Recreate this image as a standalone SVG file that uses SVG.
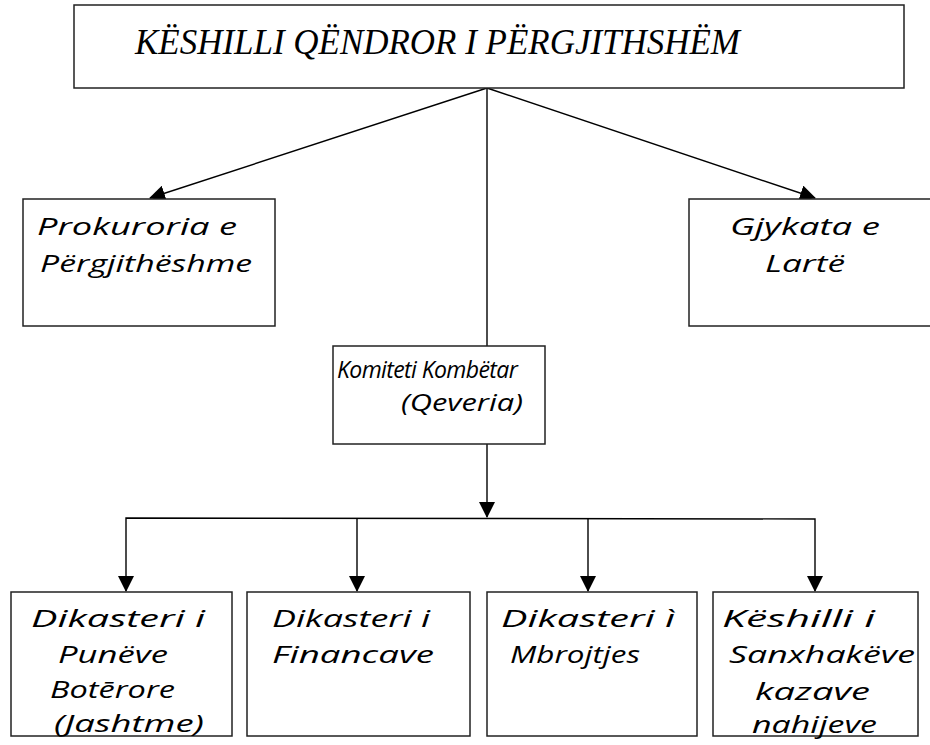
<svg xmlns="http://www.w3.org/2000/svg" width="930" height="745" viewBox="0 0 930 745">
<defs>
<style>
.box{fill:#fff;stroke:#222;stroke-width:1.5}
.ln{stroke:#000;stroke-width:1.4;fill:none}
.t{font-family:"Open Sans","DejaVu Sans",sans-serif;font-style:italic;font-size:24px;fill:#000}
.title{font-family:"Liberation Serif",serif;font-style:italic;font-size:35px;fill:#000}
</style>
<marker id="ah2" markerWidth="16" markerHeight="16" refX="15" refY="8" orient="auto" markerUnits="userSpaceOnUse" viewBox="0 0 16 16">
<path d="M0,0 L16,8 L0,16 z" fill="#000"/>
</marker>
</defs>

<g id="connectors">
<line class="ln" x1="487" y1="88" x2="150" y2="198" marker-end="url(#ah2)"/>
<line class="ln" x1="487" y1="88" x2="815" y2="198" marker-end="url(#ah2)"/>
<line class="ln" x1="487" y1="88" x2="487" y2="346"/>
<line class="ln" x1="487" y1="444" x2="487" y2="517" marker-end="url(#ah2)"/>
<polyline class="ln" points="126,560 126,518 815,519 815,560"/>
<line class="ln" x1="126" y1="560" x2="126" y2="591" marker-end="url(#ah2)"/>
<line class="ln" x1="357" y1="518" x2="357" y2="591" marker-end="url(#ah2)"/>
<line class="ln" x1="588" y1="518" x2="588" y2="591" marker-end="url(#ah2)"/>
<line class="ln" x1="815" y1="560" x2="815" y2="591" marker-end="url(#ah2)"/>
</g>

<g id="n-top">
<rect class="box" x="74" y="5" width="830" height="83"/>
<text class="title" x="135" y="54" textLength="605" lengthAdjust="spacingAndGlyphs">KËSHILLI QËNDROR I PËRGJITHSHËM</text>
</g>

<g id="n-prokuroria">
<rect class="box" x="23" y="199" width="252" height="127"/>
<text class="t" x="37" y="235" textLength="200" lengthAdjust="spacingAndGlyphs">Prokuroria e</text>
<text class="t" x="40" y="272" textLength="212" lengthAdjust="spacingAndGlyphs">Përgjithëshme</text>
</g>

<g id="n-gjykata">
<rect class="box" x="689" y="199" width="245" height="127"/>
<text class="t" x="730" y="235" textLength="150" lengthAdjust="spacingAndGlyphs">Gjykata  e</text>
<text class="t" x="765" y="272" textLength="80" lengthAdjust="spacingAndGlyphs">Lartë</text>
</g>

<g id="n-komiteti">
<rect class="box" x="333" y="346" width="212" height="98"/>
<text class="t" x="337" y="378" style="font-size:23px;letter-spacing:-0.6px">Komiteti Kombëtar</text>
<text class="t" x="401" y="411" textLength="122" lengthAdjust="spacingAndGlyphs">(Qeveria)</text>
</g>

<g id="n-punet">
<rect class="box" x="11" y="592" width="221" height="144"/>
<text class="t" x="31" y="627" textLength="174" lengthAdjust="spacingAndGlyphs">Dikasteri  i</text>
<text class="t" x="58" y="663" textLength="110" lengthAdjust="spacingAndGlyphs">Punëve</text>
<text class="t" x="50" y="698" textLength="125" lengthAdjust="spacingAndGlyphs">Botērore</text>
<text class="t" x="54" y="732" textLength="150" lengthAdjust="spacingAndGlyphs">(Jashtme)</text>
</g>

<g id="n-financave">
<rect class="box" x="247" y="592" width="223" height="144"/>
<text class="t" x="272" y="627" textLength="158" lengthAdjust="spacingAndGlyphs">Dikasteri i</text>
<text class="t" x="272" y="663" textLength="162" lengthAdjust="spacingAndGlyphs">Financave</text>
</g>

<g id="n-mbrojtjes">
<rect class="box" x="487" y="592" width="210" height="144"/>
<text class="t" x="501" y="627" textLength="174" lengthAdjust="spacingAndGlyphs">Dikasteri  ì</text>
<text class="t" x="510" y="663" textLength="130" lengthAdjust="spacingAndGlyphs">Mbrojtjes</text>
</g>

<g id="n-keshilli">
<rect class="box" x="713" y="592" width="205" height="144"/>
<text class="t" x="722" y="627" textLength="153" lengthAdjust="spacingAndGlyphs">Këshilli  i</text>
<text class="t" x="729" y="663" textLength="186" lengthAdjust="spacingAndGlyphs">Sanxhakëve</text>
<text class="t" x="755" y="700" textLength="115" lengthAdjust="spacingAndGlyphs">kazave</text>
<text class="t" x="752" y="733" textLength="125" lengthAdjust="spacingAndGlyphs">nahijeve</text>
</g>
</svg>
